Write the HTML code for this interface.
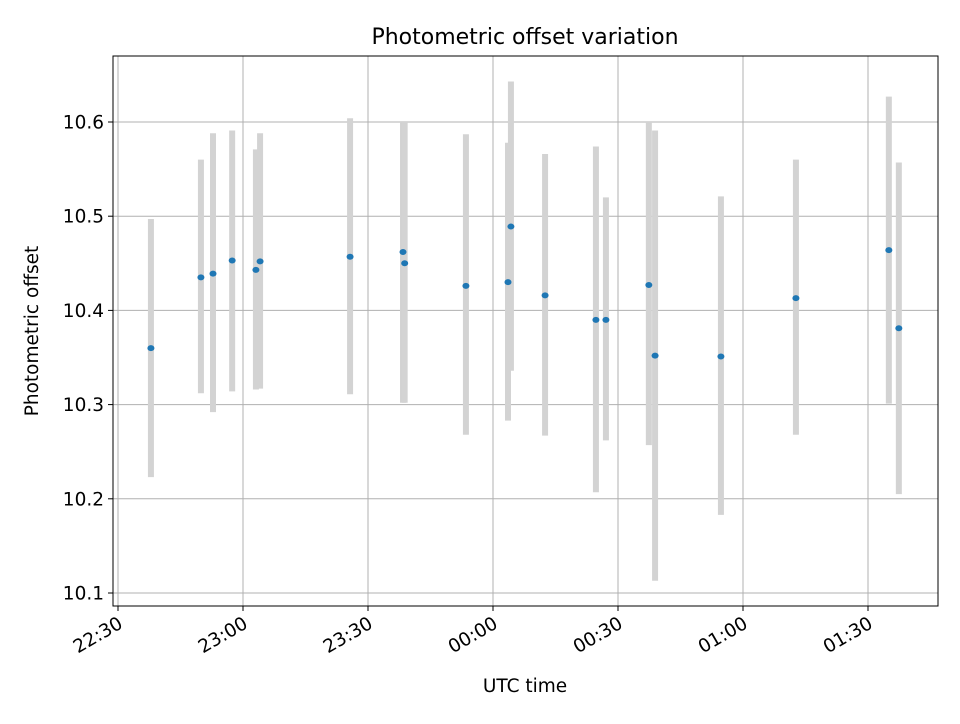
<!DOCTYPE html>
<html><head><meta charset="utf-8"><style>
body{margin:0;background:#fff;font-family:"DejaVu Sans","Liberation Sans",sans-serif}
</style></head><body>
<svg id="chart" width="960" height="720" xmlns="http://www.w3.org/2000/svg" font-family="DejaVu Sans, Liberation Sans, sans-serif">
<rect width="960" height="720" fill="#fff"/>
<g id="grid"></g>
<g id="bars"></g>
<g id="pts"></g>
<rect x="113" y="56" width="825" height="550" fill="none" stroke="#000" stroke-width="1"/>
<g id="ticks"></g>
<text x="525" y="44" text-anchor="middle" font-size="22">Photometric offset variation</text>
<text x="525" y="692" text-anchor="middle" font-size="18.5">UTC time</text>
<text transform="translate(38,331) rotate(-90)" text-anchor="middle" font-size="18.5">Photometric offset</text>
</svg>
<script>
// minutes after 22:30 UTC
const times=[7.9,19.9,22.8,27.4,33.1,34.1,55.7,68.4,68.8,83.5,93.6,94.3,102.5,114.7,117.1,127.4,128.9,144.7,162.7,185,187.4];
const values=[10.36,10.435,10.439,10.453,10.443,10.452,10.457,10.462,10.450,10.426,10.43,10.489,10.416,10.39,10.39,10.427,10.352,10.351,10.413,10.464,10.381];
const errHigh=[10.497,10.56,10.588,10.591,10.571,10.588,10.604,10.6,10.6,10.587,10.578,10.643,10.566,10.574,10.52,10.6,10.591,10.521,10.56,10.627,10.557];
const errLow=[10.223,10.312,10.292,10.314,10.316,10.317,10.311,10.302,10.302,10.268,10.283,10.336,10.267,10.207,10.262,10.257,10.113,10.183,10.268,10.301,10.205];
const yTicks=[10.1,10.2,10.3,10.4,10.5,10.6];
const xTickMin=[0,30,60,90,120,150,180];
const xTickLabels=["22:30","23:00","23:30","00:00","00:30","01:00","01:30"];
const NS="http://www.w3.org/2000/svg";
const X=m=>118+m*125/30;
const Y=v=>593-(v-10.1)*942;
function mk(t,a,p){const e=document.createElementNS(NS,t);for(const k in a)e.setAttribute(k,a[k]);p.appendChild(e);return e;}
const grid=document.getElementById('grid'),ticks=document.getElementById('ticks');
yTicks.forEach(v=>{const y=Y(v);
 const g=mk('line',{x1:113,x2:938,y1:y,y2:y,stroke:'#b0b0b0','stroke-width':1},grid);
 
 mk('line',{x1:108,x2:113,y1:y,y2:y,stroke:'#000'},ticks);
 const t=mk('text',{x:104,y:y+6.5,'text-anchor':'end','font-size':'18.5'},ticks);t.textContent=v.toFixed(1);
 });
xTickMin.forEach((m,i)=>{const x=X(m);
 const g=mk('line',{x1:x,x2:x,y1:56,y2:606,stroke:'#b0b0b0','stroke-width':1},grid);
 
 mk('line',{x1:x,x2:x,y1:606,y2:611,stroke:'#000'},ticks);
 const ax=x+6, ay=627;
 const t=mk('text',{x:ax,y:ay,'text-anchor':'end','font-size':'18.5',transform:`rotate(-30 ${ax} ${ay})`},ticks);t.textContent=xTickLabels[i];
 });
const bars=document.getElementById('bars'),pts=document.getElementById('pts');
times.forEach((m,i)=>{const x=X(m);
 const b=mk('line',{x1:x,x2:x,y1:Y(errHigh[i]),y2:Y(errLow[i]),stroke:'#d3d3d3','stroke-width':6},bars);
 
 const c=mk('ellipse',{cx:x,cy:Y(values[i]),rx:3.5,ry:3,fill:'#1f77b4'},pts);
 });
</script>
</body></html>
